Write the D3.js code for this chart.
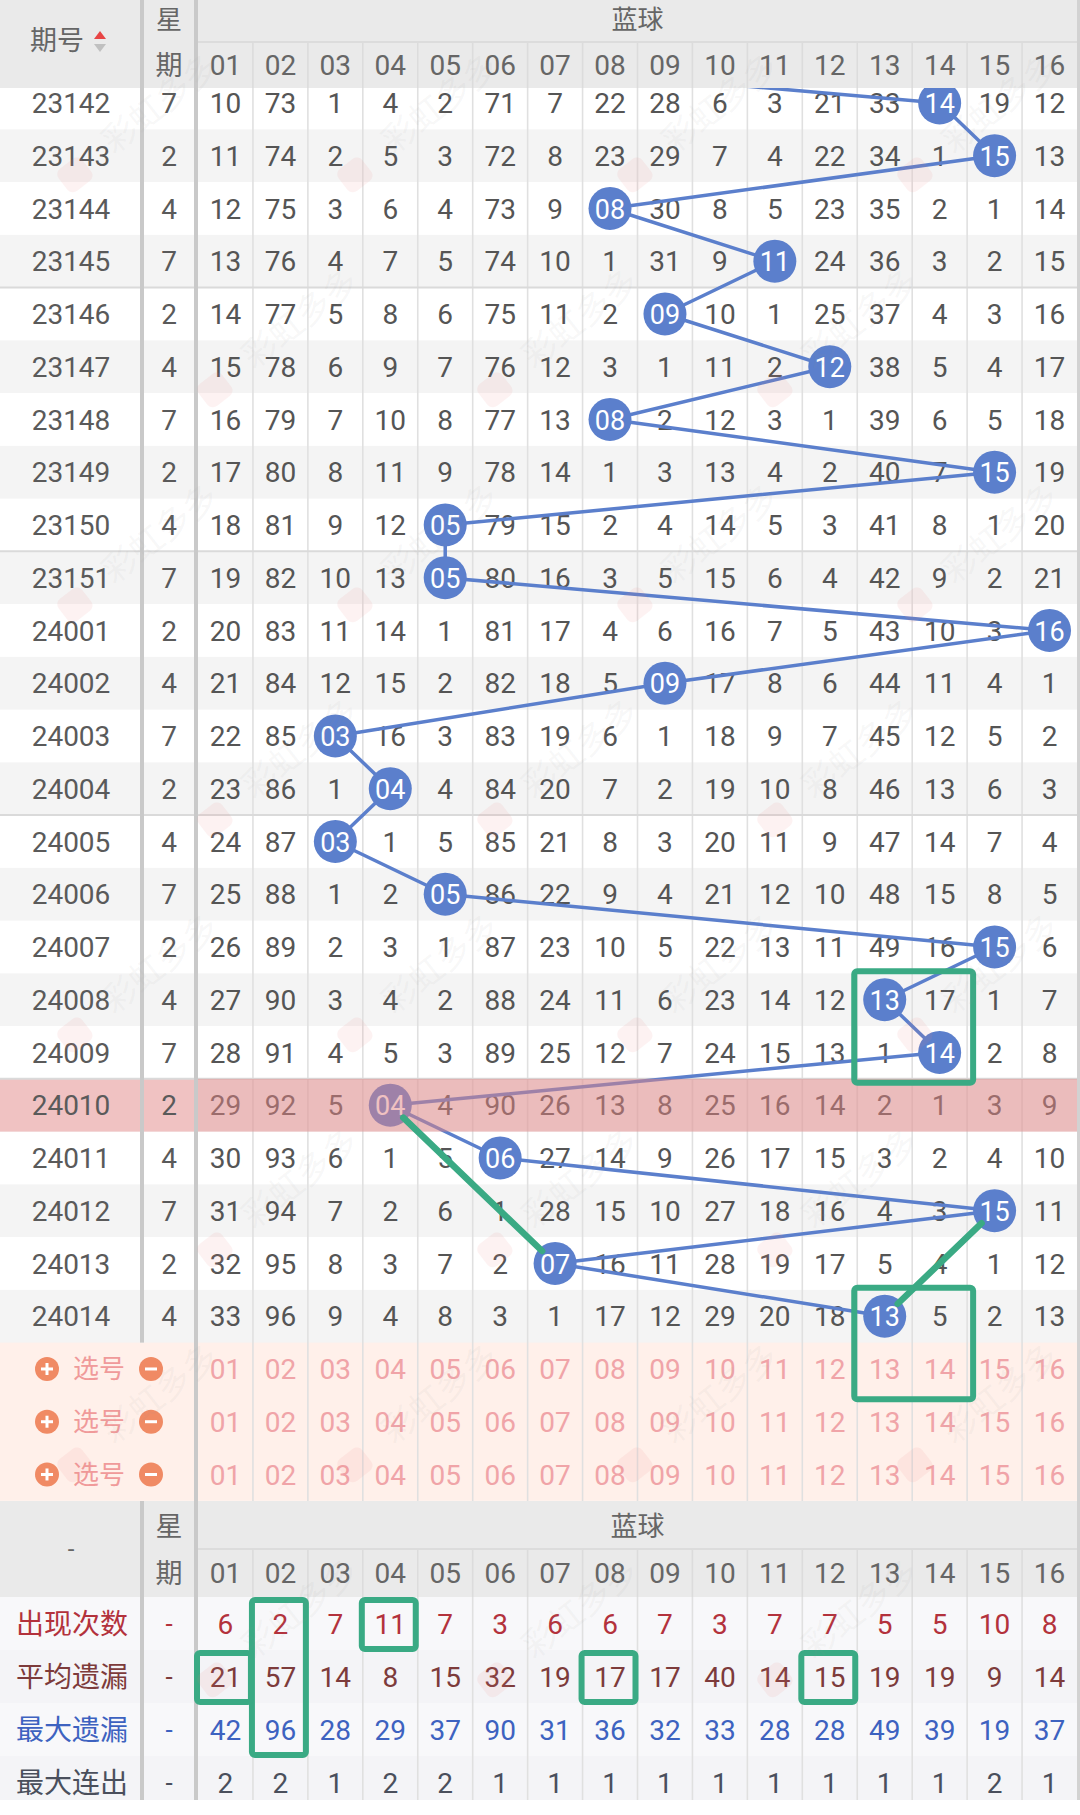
<!DOCTYPE html>
<html><head><meta charset="utf-8">
<script src="https://cdn.jsdelivr.net/npm/d3@7"></script>
<style>
html,body{margin:0;padding:0;background:#fff;}
svg{display:block;}
</style></head><body>
<script>
// ---------------- data ----------------
const periods = ["23142","23143","23144","23145","23146","23147","23148","23149","23150","23151",
  "24001","24002","24003","24004","24005","24006","24007","24008","24009","24010","24011","24012","24013","24014"];
const weekdays = [7,2,4,7,2,4,7,2,4,7,2,4,7,2,4,7,2,4,7,2,4,7,2,4];
const blueHits = [14,15,8,11,9,12,8,15,5,5,16,9,3,4,3,5,15,13,14,4,6,15,7,13];
const prevHit = 3; // blue ball of 23141 (row scrolled under the header)
const ballLabels = ["01","02","03","04","05","06","07","08","09","10","11","12","13","14","15","16"];
// omission values per row (0 = hit cell, drawn as ball)
const omissions = [
  [10,73,1,4,2,71,7,22,28,6,3,21,33,0,19,12],
  [11,74,2,5,3,72,8,23,29,7,4,22,34,1,0,13],
  [12,75,3,6,4,73,9,0,30,8,5,23,35,2,1,14],
  [13,76,4,7,5,74,10,1,31,9,0,24,36,3,2,15],
  [14,77,5,8,6,75,11,2,0,10,1,25,37,4,3,16],
  [15,78,6,9,7,76,12,3,1,11,2,0,38,5,4,17],
  [16,79,7,10,8,77,13,0,2,12,3,1,39,6,5,18],
  [17,80,8,11,9,78,14,1,3,13,4,2,40,7,0,19],
  [18,81,9,12,0,79,15,2,4,14,5,3,41,8,1,20],
  [19,82,10,13,0,80,16,3,5,15,6,4,42,9,2,21],
  [20,83,11,14,1,81,17,4,6,16,7,5,43,10,3,0],
  [21,84,12,15,2,82,18,5,0,17,8,6,44,11,4,1],
  [22,85,0,16,3,83,19,6,1,18,9,7,45,12,5,2],
  [23,86,1,0,4,84,20,7,2,19,10,8,46,13,6,3],
  [24,87,0,1,5,85,21,8,3,20,11,9,47,14,7,4],
  [25,88,1,2,0,86,22,9,4,21,12,10,48,15,8,5],
  [26,89,2,3,1,87,23,10,5,22,13,11,49,16,0,6],
  [27,90,3,4,2,88,24,11,6,23,14,12,0,17,1,7],
  [28,91,4,5,3,89,25,12,7,24,15,13,1,0,2,8],
  [29,92,5,0,4,90,26,13,8,25,16,14,2,1,3,9],
  [30,93,6,1,5,0,27,14,9,26,17,15,3,2,4,10],
  [31,94,7,2,6,1,28,15,10,27,18,16,4,3,0,11],
  [32,95,8,3,7,2,0,16,11,28,19,17,5,4,1,12],
  [33,96,9,4,8,3,1,17,12,29,20,18,0,5,2,13]
];
const highlightPeriod = "24010";
const pickRows = ["选号","选号","选号"];
const statNames = ["出现次数","平均遗漏","最大遗漏","最大连出"];
const appearCount = [6,2,7,11,7,3,6,6,7,3,7,7,5,5,10,8];
const avgOmission = [21,57,14,8,15,32,19,17,17,40,14,15,19,19,9,14];
const maxOmission = [42,96,28,29,37,90,31,36,32,33,28,28,49,39,19,37];
const maxStreak = [2,2,1,2,2,1,1,1,1,1,1,1,1,1,2,1];
// green hand-drawn marks
const markBoxes = [
  {c0:"13", c1:"14", r0:"24008", r1:"24009"},
  {c0:"13", c1:"14", r0:"24014", r1:"pick0"}
];
const markLines = [
  {from:["24010","04"], to:["24013","07"]},
  {from:["24012","15"], to:["24014","13"]}
];
const statBoxes = [
  {c:"04", s0:"出现次数", s1:"出现次数"},
  {c:"02", s0:"出现次数", s1:"最大遗漏"},
  {c:"01", s0:"平均遗漏", s1:"平均遗漏"},
  {c:"08", s0:"平均遗漏", s1:"平均遗漏"},
  {c:"12", s0:"平均遗漏", s1:"平均遗漏"}
];

// ---------------- drawing ----------------
const W=1080, H=1815;
const NUM = "Roboto, 'Noto Sans', sans-serif";
const CJK = "'Noto Sans CJK SC', 'Noto Sans', sans-serif";
const svg = d3.select("body").append("svg").attr("width",W).attr("height",H)
  .style("background","#fff");

const xNum = d3.scaleBand().domain(ballLabels).range([198,1077]);
const pickKeys = pickRows.map((d,i)=>"pick"+i);
const yRow = d3.scaleBand().domain([...periods, ...pickKeys]).range([76.6, 76.6 + 27*52.75]);
const yStat = d3.scaleBand().domain(statNames).range([1597, 1597 + 4*53]);
const bw = xNum.bandwidth(), bh = yRow.bandwidth();
const cx = c => xNum(c) + bw/2;
const cy = r => yRow(r) + bh/2;
const xQ = 71, xW = 169;   // centers of 期号 / 星期 columns
const TOP_H1 = 42, TOP_H2 = 88;
const BOT_H0 = 1501, BOT_H1 = 1549, BOT_H2 = 1597, END = 1800;

const gBg = svg.append("g"), gGrid = svg.append("g"), gText = svg.append("g"),
      gLine = svg.append("g"), gBall = svg.append("g"), gOver = svg.append("g"),
      gHead = svg.append("g"), gGreen = svg.append("g"), gWater = svg.append("g");

// row backgrounds
periods.forEach((p,i)=>{
  gBg.append("rect").attr("x",0).attr("y",yRow(p)).attr("width",W).attr("height",bh+0.5)
    .attr("fill", i%2 ? "#f4f4f4" : "#ffffff");
});
gBg.append("rect").attr("x",0).attr("y",yRow(highlightPeriod)).attr("width",198).attr("height",bh)
  .attr("fill","#f0c2c2");
gBg.append("rect").attr("x",0).attr("y",yRow("pick0")).attr("width",W)
  .attr("height",yRow("pick2")+bh - yRow("pick0")).attr("fill","#fff0ea");
statNames.forEach((s,i)=>{
  gBg.append("rect").attr("x",0).attr("y",yStat(s)).attr("width",W).attr("height",yStat.bandwidth()+0.5)
    .attr("fill", i%2 ? "#f4f4f7" : "#f8f8fa");
});
gBg.append("rect").attr("x",0).attr("y",END).attr("width",W).attr("height",H-END).attr("fill","#fff");

// vertical grid lines in number area
ballLabels.slice(1).forEach(c=>{
  gGrid.append("line").attr("x1",xNum(c)).attr("x2",xNum(c)).attr("y1",TOP_H2).attr("y2",BOT_H0)
    .attr("stroke","#e0e0e0").attr("stroke-width",1.6);
  gGrid.append("line").attr("x1",xNum(c)).attr("x2",xNum(c)).attr("y1",BOT_H1).attr("y2",END)
    .attr("stroke","#e0e0e0").attr("stroke-width",1.6);
});
// group separators every 5 rows
periods.forEach((p,i)=>{
  if(i>0 && i%5===4){
    gGrid.append("line").attr("x1",0).attr("x2",W).attr("y1",yRow(p)).attr("y2",yRow(p))
      .attr("stroke","#dadada").attr("stroke-width",2);
  }
});

const numText = (g,x,y,t,fill,size=28)=> g.append("text").attr("x",x).attr("y",y).attr("dy","0.36em")
  .attr("text-anchor","middle").attr("font-family",NUM).attr("font-size",size).attr("fill",fill).text(t);
const cjkText = (g,x,y,t,fill,size=27)=> g.append("text").attr("x",x).attr("y",y).attr("dy","0.36em")
  .attr("text-anchor","middle").attr("font-family",CJK).attr("font-size",size).attr("fill",fill).text(t);

periods.forEach((p,i)=>{
  numText(gText, xQ, cy(p), p, "#5a5a5a");
  numText(gText, xW, cy(p), weekdays[i], "#5a5a5a");
  omissions[i].forEach((v,j)=>{
    if(v>0) numText(gText, cx(ballLabels[j]), cy(p), v, "#555");
  });
});

// pick rows
pickKeys.forEach((k,i)=>{
  const y = cy(k);
  [[47,"plus"],[151,"minus"]].forEach(([x,t])=>{
    gText.append("circle").attr("cx",x).attr("cy",y).attr("r",12).attr("fill","#f08a64");
    gText.append("line").attr("x1",x-6).attr("x2",x+6).attr("y1",y).attr("y2",y)
      .attr("stroke","#fff").attr("stroke-width",3);
    if(t==="plus") gText.append("line").attr("x1",x).attr("x2",x).attr("y1",y-6).attr("y2",y+6)
      .attr("stroke","#fff").attr("stroke-width",3);
  });
  cjkText(gText, 99, y, pickRows[i], "#f09a9a", 26);
  ballLabels.forEach(c=> numText(gText, cx(c), y, c, "#f0a4a8"));
});

// blue trend line
const pts = [[cx(ballLabels[prevHit-1]), cy(periods[0]) - yRow.step()]]
  .concat(periods.map((p,i)=>[cx(ballLabels[blueHits[i]-1]), cy(p)]));
gLine.append("path").attr("d", d3.line()(pts)).attr("fill","none")
  .attr("stroke","#5b7fcc").attr("stroke-width",3.5).attr("stroke-linejoin","round");
periods.forEach((p,i)=>{
  const c = ballLabels[blueHits[i]-1];
  gBall.append("circle").attr("cx",cx(c)).attr("cy",cy(p)).attr("r",21.5).attr("fill","#5b7fcc");
  numText(gBall, cx(c), cy(p)+0.5, c, "#fff", 27);
});

// highlight overlay on number area
gOver.append("rect").attr("x",198).attr("y",yRow(highlightPeriod)).attr("width",W-198).attr("height",bh)
  .attr("fill","rgb(225,132,132)").attr("fill-opacity",0.5);

// ----- top header -----
gHead.append("rect").attr("x",0).attr("y",0).attr("width",W).attr("height",TOP_H2).attr("fill","#eaeaea");
gHead.append("line").attr("x1",198).attr("x2",W).attr("y1",TOP_H1).attr("y2",TOP_H1)
  .attr("stroke","#dcdcdc").attr("stroke-width",2);
ballLabels.slice(1).forEach(c=>{
  gHead.append("line").attr("x1",xNum(c)).attr("x2",xNum(c)).attr("y1",TOP_H1).attr("y2",TOP_H2)
    .attr("stroke","#dcdcdc").attr("stroke-width",1.6);
});
ballLabels.forEach(c=> numText(gHead, cx(c), 65, c, "#666"));
cjkText(gHead, (198+1077)/2, 20, "蓝球", "#666", 26);
cjkText(gHead, xW, 20, "星", "#666", 26);
cjkText(gHead, xW, 65, "期", "#666");
cjkText(gHead, 57, 40, "期号", "#666");
gHead.append("path").attr("d","M94,39 L106,39 L100,31 Z").attr("fill","#e84545");
gHead.append("path").attr("d","M94,44 L106,44 L100,52 Z").attr("fill","#c0c0c0");

// ----- bottom header + stats -----
gHead.append("rect").attr("x",0).attr("y",BOT_H0).attr("width",W).attr("height",BOT_H2-BOT_H0).attr("fill","#eaeaea");
gHead.append("line").attr("x1",198).attr("x2",W).attr("y1",BOT_H1).attr("y2",BOT_H1)
  .attr("stroke","#dcdcdc").attr("stroke-width",2);
ballLabels.slice(1).forEach(c=>{
  gHead.append("line").attr("x1",xNum(c)).attr("x2",xNum(c)).attr("y1",BOT_H1).attr("y2",BOT_H2)
    .attr("stroke","#dcdcdc").attr("stroke-width",1.6);
});
ballLabels.forEach(c=> numText(gHead, cx(c), 1573, c, "#666"));
cjkText(gHead, (198+1077)/2, 1526, "蓝球", "#666");
cjkText(gHead, xW, 1526, "星", "#666");
cjkText(gHead, xW, 1573, "期", "#666");
numText(gHead, xQ, 1548, "-", "#666", 24);

const statSeries = [appearCount, avgOmission, maxOmission, maxStreak];
const statColors = ["#b3323c", "#7d3b3b", "#3d62c0", "#4a4f5c"];
statNames.forEach((s,i)=>{
  const y = yStat(s) + yStat.bandwidth()/2;
  cjkText(gHead, 72, y, s, statColors[i], 28);
  numText(gHead, xW, y, "-", statColors[i], 26);
  statSeries[i].forEach((v,j)=> numText(gHead, cx(ballLabels[j]), y, v, statColors[i]));
});

// thick fixed-column dividers
[[0,yRow("pick0")],[BOT_H0,END]].forEach(([a,b])=>{
  gHead.append("rect").attr("x",140).attr("y",a).attr("width",4).attr("height",b-a).attr("fill","#c9c9c9");
});
gHead.append("rect").attr("x",194).attr("y",0).attr("width",4).attr("height",END).attr("fill","#c9c9c9");
gHead.append("rect").attr("x",1077).attr("y",0).attr("width",3).attr("height",END).attr("fill","#d2d2d2");
gHead.append("rect").attr("x",0).attr("y",END).attr("width",W).attr("height",H-END).attr("fill","#fff");

// ----- green annotations -----
const GREEN = "#3aaa84";
markBoxes.forEach(b=>{
  const x0 = xNum(b.c0)-3, x1 = xNum(b.c1)+bw+6;
  const y0 = yRow(b.r0)-2, y1 = yRow(b.r1)+bh+4;
  gGreen.append("rect").attr("x",x0).attr("y",y0).attr("width",x1-x0).attr("height",y1-y0)
    .attr("rx",3).attr("fill","none").attr("stroke",GREEN).attr("stroke-width",6);
});
markLines.forEach(l=>{
  const a=[cx(l.from[1]), cy(l.from[0])], b=[cx(l.to[1]), cy(l.to[0])];
  const dx=b[0]-a[0], dy=b[1]-a[1], len=Math.hypot(dx,dy), r=18;
  gGreen.append("line").attr("x1",a[0]+dx/len*r).attr("y1",a[1]+dy/len*r)
    .attr("x2",b[0]-dx/len*r).attr("y2",b[1]-dy/len*r)
    .attr("stroke",GREEN).attr("stroke-width",6.5).attr("stroke-linecap","round");
});
statBoxes.forEach(b=>{
  const x0 = xNum(b.c)-1, x1 = xNum(b.c)+bw-2;
  const y0 = yStat(b.s0)+3, y1 = yStat(b.s1)+yStat.bandwidth()-1;
  gGreen.append("rect").attr("x",x0).attr("y",y0).attr("width",x1-x0).attr("height",y1-y0)
    .attr("rx",3).attr("fill","none").attr("stroke",GREEN).attr("stroke-width",6);
});

// ----- faint watermarks (kept inside the page) -----
for(let j=0;j<8;j++){
  for(let i=0;i<4;i++){
    const x = i*280 + (j%2)*140 + 110, y = j*215 + 150;
    if(x > 960) continue;
    const g = gWater.append("g").attr("transform",`translate(${x},${y}) rotate(-38)`);
    g.append("rect").attr("x",-58).attr("y",-16).attr("width",30).attr("height",28).attr("rx",7)
      .attr("fill","#f08080").attr("fill-opacity",0.1);
    g.append("text").attr("x",0).attr("y",6).attr("font-family",CJK).attr("font-size",34)
      .attr("fill","#999").attr("fill-opacity",0.08).text("彩虹多多");
  }
}
</script>
</body></html>
